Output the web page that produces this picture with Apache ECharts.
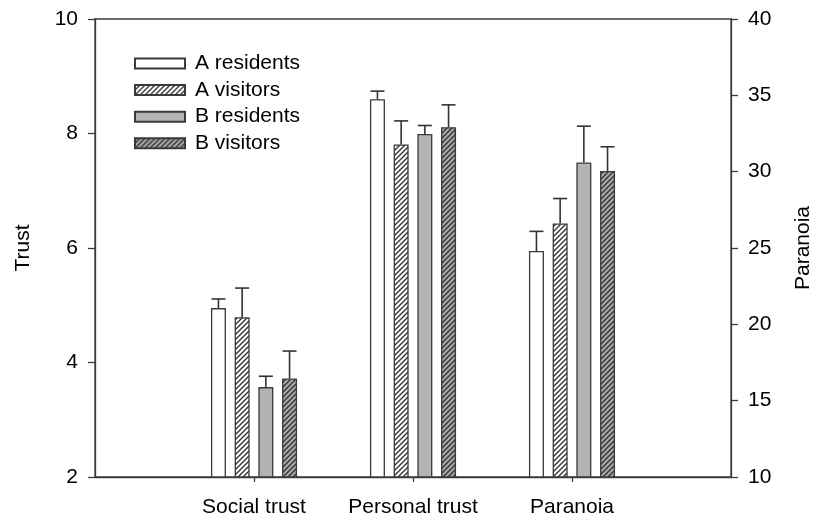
<!DOCTYPE html>
<html>
<head>
<meta charset="utf-8">
<script src="https://cdn.jsdelivr.net/npm/echarts@6/dist/echarts.min.js"></script>
<style>
html,body{margin:0;padding:0;background:#fff;}
#chart{width:814px;height:520px;}
</style>
</head>
<body>
<div id="chart"></div>
<script>
// ---- data ----
const categories = ['Social trust', 'Personal trust', 'Paranoia'];
const groupNames = ['A residents', 'A visitors', 'B residents', 'B visitors'];
// values: [Social trust, Personal trust] on Trust axis, Paranoia on Paranoia axis
const aResidents    = [4.95, 8.60, 24.8];
const aResidentsErr = [0.16, 0.14, 1.29];
const aVisitors     = [4.79, 7.81, 26.6];
const aVisitorsErr  = [0.51, 0.41, 1.64];
const bResidents    = [3.57, 7.99, 30.6];
const bResidentsErr = [0.19, 0.15, 2.38];
const bVisitors     = [3.72, 8.11, 30.05];
const bVisitorsErr  = [0.48, 0.39, 1.58];
const trustTicks = [2, 4, 6, 8, 10];
const paranoiaTicks = [10, 15, 20, 25, 30, 35, 40];

const values = [aResidents, aVisitors, bResidents, bVisitors];
const errors = [aResidentsErr, aVisitorsErr, bResidentsErr, bVisitorsErr];

// ---- styles ----
function hatch(bg, line) {
  const s = 5;
  const c = document.createElement('canvas');
  c.width = s; c.height = s;
  const g = c.getContext('2d');
  g.fillStyle = bg; g.fillRect(0, 0, s, s);
  g.strokeStyle = line; g.lineWidth = 1.4;
  g.beginPath();
  g.moveTo(-1, s + 1); g.lineTo(s + 1, -1);
  g.moveTo(-1, 1); g.lineTo(1, -1);
  g.moveTo(s - 1, s + 1); g.lineTo(s + 1, s - 1);
  g.stroke();
  return { image: c, repeat: 'repeat' };
}
const edge = '#3a3a3a';
const fills = [
  '#ffffff',
  hatch('#ffffff', '#333333'),
  '#b3b3b3',
  hatch('#a9a9a9', '#333333')
];
const axisColor = '#3c3c3c';
const font = 'Liberation Sans, Arial, sans-serif';
const fs = 21;
const barWidth = 15;
const barGapRatio = 0.58;
const step = barWidth * (1 + barGapRatio);

const xData = [''].concat(categories).concat(['']);
const series = [];
// Trust bars (cartesian 0)
groupNames.forEach((name, i) => {
  series.push({
    type: 'bar', name: name, xAxisIndex: 0, yAxisIndex: 0,
    barWidth: barWidth, barGap: (barGapRatio * 100) + '%',
    itemStyle: { color: fills[i], borderColor: edge, borderWidth: 1.3 },
    data: ['-', values[i][0], values[i][1], '-', '-'],
    z: 2
  });
});
// Paranoia bars (cartesian 1)
groupNames.forEach((name, i) => {
  series.push({
    type: 'bar', name: name, xAxisIndex: 1, yAxisIndex: 1,
    barWidth: barWidth, barGap: (barGapRatio * 100) + '%',
    itemStyle: { color: fills[i], borderColor: edge, borderWidth: 1.3 },
    data: ['-', '-', '-', values[i][2], '-'],
    z: 2
  });
});
// Error bars
function errData(axisSet) {
  const out = [];
  values.forEach((v, i) => {
    if (axisSet === 0) {
      out.push([1, v[0], errors[i][0], i]);
      out.push([2, v[1], errors[i][1], i]);
    } else {
      out.push([3, v[2], errors[i][2], i]);
    }
  });
  return out;
}
function renderErr(params, api) {
  const cat = api.value(0), v = api.value(1), e = api.value(2), s = api.value(3);
  const off = (s - 1.5) * step;
  const p0 = api.coord([cat, v]);
  const p1 = api.coord([cat, v + e]);
  const x = p0[0] + off;
  const half = 7;
  return {
    type: 'group',
    children: [
      { type: 'line', shape: { x1: x, y1: p0[1], x2: x, y2: p1[1] }, style: { stroke: '#333', lineWidth: 1.6 } },
      { type: 'line', shape: { x1: x - half, y1: p1[1], x2: x + half, y2: p1[1] }, style: { stroke: '#333', lineWidth: 1.6 } }
    ]
  };
}
[0, 1].forEach(k => {
  series.push({
    type: 'custom', xAxisIndex: k, yAxisIndex: k,
    renderItem: renderErr, encode: { x: 0, y: 1 },
    data: errData(k), z: 5, silent: true
  });
});

const option = {
  animation: false,
  backgroundColor: '#fff',
  textStyle: { fontFamily: font },
  grid: { left: 95, right: 83, top: 19, bottom: 43, containLabel: false, outerBoundsMode: 'none', show: true, borderColor: axisColor, borderWidth: 1.3, backgroundColor: 'transparent' },
  legend: {
    orient: 'vertical', left: 129, top: 48, itemWidth: 50, itemHeight: 10, itemGap: 5.6,
    icon: 'rect',
    data: groupNames,
    textStyle: { fontSize: fs, color: '#000', fontFamily: font, padding: [0, 0, 0, 5] }
  },
  xAxis: [
    {
      type: 'category', data: xData, boundaryGap: false, gridIndex: 0,
      axisLine: { lineStyle: { color: axisColor, width: 1.3 } },
      axisTick: { show: true, length: 5, interval: function (i) { return i >= 1 && i <= categories.length; }, lineStyle: { color: axisColor, width: 1.3 } },
      axisLabel: { interval: 0, fontSize: fs, color: '#000', margin: 20, fontFamily: font },
      splitLine: { show: false }
    },
    { type: 'category', data: xData, boundaryGap: false, gridIndex: 0, show: false }
  ],
  yAxis: [
    {
      type: 'value', min: trustTicks[0], max: trustTicks[trustTicks.length - 1], interval: 2,
      name: 'Trust', nameLocation: 'middle', nameGap: 61, nameRotate: 90,
      nameTextStyle: { fontSize: fs, color: '#000', fontFamily: font },
      axisLine: { show: true, lineStyle: { color: axisColor, width: 1.3 } },
      axisTick: { show: true, length: 7, lineStyle: { color: axisColor, width: 1.3 } },
      axisLabel: { fontSize: fs, color: '#000', margin: 17, fontFamily: font },
      splitLine: { show: false }
    },
    {
      type: 'value', position: 'right', min: paranoiaTicks[0], max: paranoiaTicks[paranoiaTicks.length - 1], interval: 5,
      name: 'Paranoia', nameLocation: 'middle', nameGap: 62, nameRotate: 90,
      nameTextStyle: { fontSize: fs, color: '#000', fontFamily: font },
      axisLine: { show: true, lineStyle: { color: axisColor, width: 1.3 } },
      axisTick: { show: true, length: 7, lineStyle: { color: axisColor, width: 1.3 } },
      axisLabel: { fontSize: fs, color: '#000', margin: 17, fontFamily: font },
      splitLine: { show: false }
    }
  ],
  series: series
};
const chart = echarts.init(document.getElementById('chart'), null, { renderer: 'canvas' });
chart.setOption(option);
</script>
</body>
</html>
